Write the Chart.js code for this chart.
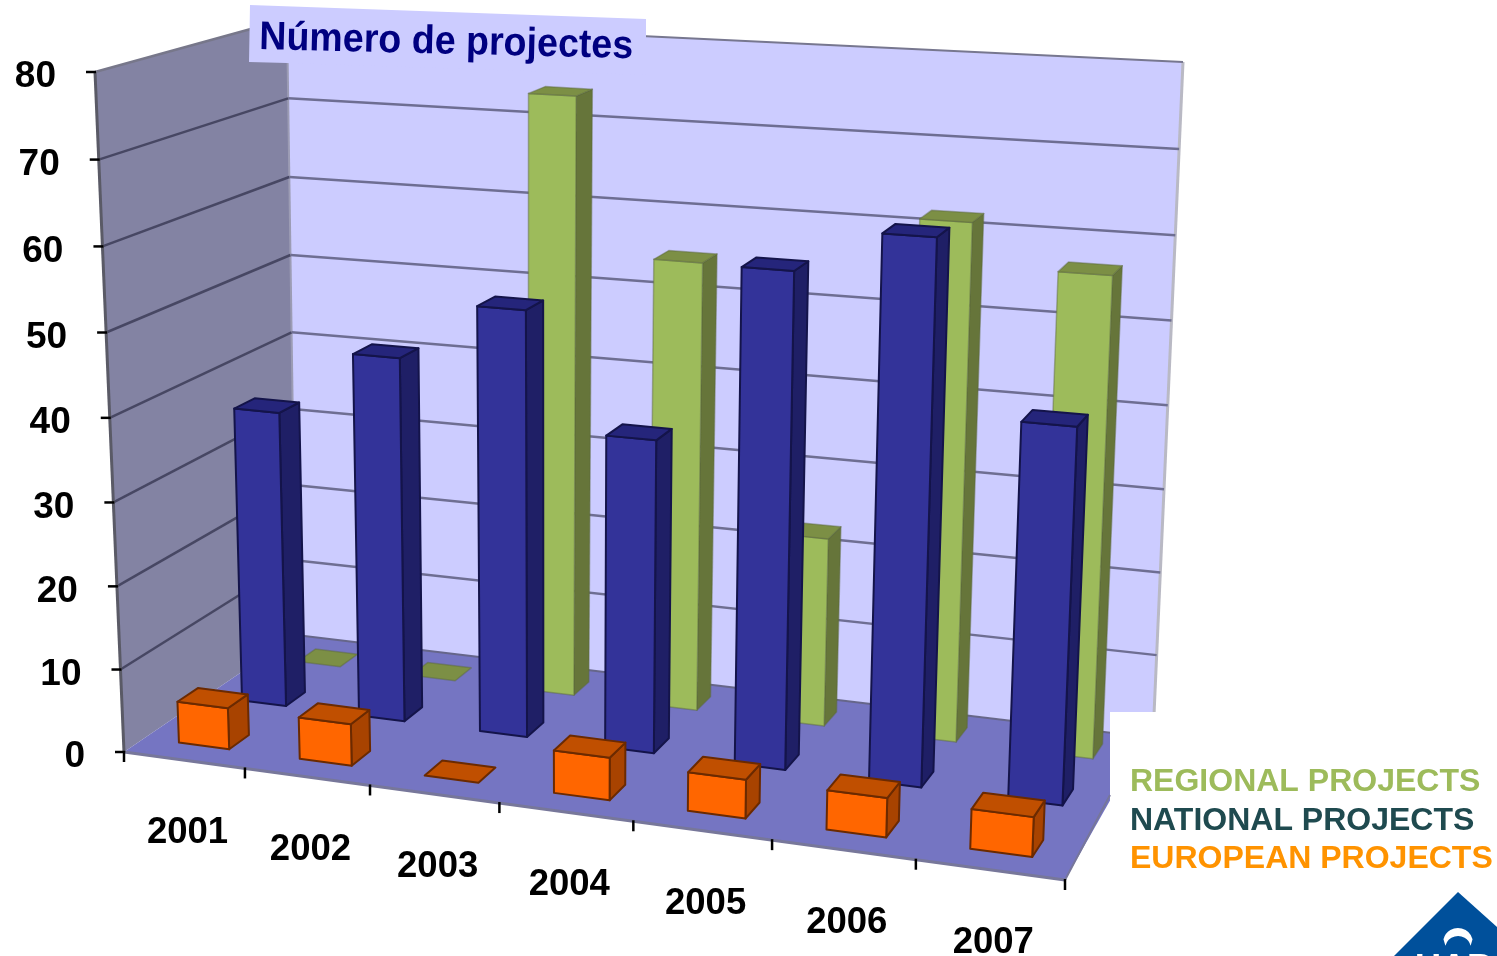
<!DOCTYPE html>
<html><head><meta charset="utf-8">
<style>html,body{margin:0;padding:0;background:#fff}canvas{display:block}</style>
<script src="https://cdn.jsdelivr.net/npm/chart.js@4"></script>
</head><body>
<canvas id="c" width="1497" height="956"></canvas>
<script>
const years = ['2001','2002','2003','2004','2005','2006','2007'];
const regional = [0,0,74,55,23,62,57];
const national = [36.5,44.5,51.5,37.5,58.5,63.5,43.5];
const european = [5,5,0,5,4.5,4.5,4.5];
const yMax = 80, yStep = 10;
const titleText = 'Número de projectes';
const legendItems = ['REGIONAL PROJECTS','NATIONAL PROJECTS','EUROPEAN PROJECTS'];
const legendColors = ['#9DBB5B','#1F4A4F','#FF9300'];

// 3D frame corners (image space)
const C = {
  fbl:[124,752], fbr:[1065,880], ftl:[95,72], ftr:[1095,136],
  bbl:[296,635], bbr:[1153,737], btl:[287,19], btr:[1183,62]
};
const floorRight = [1146,737];
const warpK = 0.13, warpV = 0.035;
const warp = u => u/(1+warpK*(1-u));
const warpH = v => v/(1+warpV*(1-v));
function lerp(a,b,t){return [a[0]+(b[0]-a[0])*t,a[1]+(b[1]-a[1])*t];}
function P3(u,d,v){
  const w = warp(u), h = warpH(v);
  const fb = lerp(C.fbl,C.fbr,w), ft = lerp(C.ftl,C.ftr,w);
  const bb = lerp(C.bbl,C.bbr,w), bt = lerp(C.btl,C.btr,w);
  return lerp(lerp(fb,ft,h),lerp(bb,bt,h),d);
}
function poly(ctx,pts,fill,stroke,lw){
  ctx.beginPath();
  pts.forEach((p,i)=>i?ctx.lineTo(p[0],p[1]):ctx.moveTo(p[0],p[1]));
  ctx.closePath();
  if(fill){ctx.fillStyle=fill;ctx.fill();}
  if(stroke){ctx.strokeStyle=stroke;ctx.lineWidth=lw||1.5;ctx.stroke();}
}
function seg(ctx,a,b,col,lw){
  ctx.beginPath();ctx.moveTo(a[0],a[1]);ctx.lineTo(b[0],b[1]);
  ctx.strokeStyle=col;ctx.lineWidth=lw;ctx.stroke();
}
const looks = [
  {d0:.81,d1:.915,front:'#9DBB5B',side:'#66753A',top:'#7C8F45',edge:'rgba(90,105,60,.45)',lw:1.5},
  {d0:.48,d1:.595,front:'#333399',side:'#1F1F66',top:'#25257B',edge:'#14144A',lw:2},
  {d0:.12,d1:.24,front:'#FF6600',side:'#A84300',top:'#C04F00',edge:'#6B2A00',lw:2}
];
const plugin3d = {
  id:'frame3d',
  beforeDatasetsDraw(chart){
    const ctx=chart.ctx, ys=chart.scales.y, xs=chart.scales.x, a=chart.chartArea;
    ctx.save();
    ctx.save();
    ctx.beginPath();
    ctx.rect(0,0,1110,956);ctx.rect(1110,0,387,712);
    ctx.clip();
    poly(ctx,[C.btl,C.btr,C.bbr,C.bbl],'#CCCCFF');
    poly(ctx,[C.ftl,C.btl,C.bbl,C.fbl],'#8383A3');
    poly(ctx,[C.fbl,C.fbr,floorRight,C.bbl],'#7575C2');
    seg(ctx,C.btr,C.bbr,'#b9b9c4',3);
    seg(ctx,C.ftl,C.btl,'#77778a',2.5);
    seg(ctx,C.btl,C.btr,'#77778f',2);
    seg(ctx,C.btl,C.bbl,'#9c9cb4',2);
    seg(ctx,C.fbl,C.fbr,'#77779a',3);
    seg(ctx,C.bbl,floorRight,'#66668a',2);
    ys.ticks.forEach(t=>{
      const v=(a.bottom-ys.getPixelForValue(t.value))/(a.bottom-a.top);
      if(t.value>0 && t.value<yMax){
        seg(ctx,P3(0,0,v),P3(0,1,v),'#474763',2.5);
        seg(ctx,P3(0,1,v),P3(1,1,v),'#6E6E92',2.5);
      }
    });
    ctx.restore();
    seg(ctx,C.ftl,C.fbl,'#5a5a66',3);
    seg(ctx,C.fbr,[1110,795],'#77779a',2);
    // ticks + labels
    ctx.fillStyle='#000';
    ctx.font='bold 37px "Liberation Sans"';
    ctx.textBaseline='middle';
    ys.ticks.forEach(t=>{
      const v=(a.bottom-ys.getPixelForValue(t.value))/(a.bottom-a.top);
      const p=P3(0,0,v);
      seg(ctx,[p[0]-9,p[1]],[p[0]+1,p[1]],'#000',2.5);
      ctx.fillStyle='#000';ctx.textAlign='right';
      ctx.fillText(String(t.value),p[0]-39,p[1]+5);
    });
    ctx.font='bold 36.5px "Liberation Sans"';
    const half=xs.width/years.length/2;
    years.forEach((y,i)=>{
      const c=xs.getPixelForValue(i);
      const u0=(c-half-a.left)/a.width;
      const p=P3(u0,0,0);
      seg(ctx,[p[0],p[1]-1],[p[0],p[1]+10],'#000',2.5);
      const m=P3((c-a.left)/a.width,0,0);
      ctx.fillStyle='#000';ctx.textAlign='center';
      ctx.fillText(xs.getLabelForValue(i),m[0]+3.5,m[1]+73);
    });
    const e=P3(1,0,0);
    seg(ctx,[e[0],e[1]-1],[e[0],e[1]+10],'#000',2.5);
    ctx.restore();
  },
  beforeDatasetDraw(chart,args){
    const ctx=chart.ctx,a=chart.chartArea,look=looks[args.index],meta=args.meta;
    ctx.save();
    ctx.lineJoin='round';
    meta.data.forEach(el=>{
      const p=el.getProps(['x','y','base','width'],true);
      const u0=(p.x-p.width/2-a.left)/a.width,u1=(p.x+p.width/2-a.left)/a.width;
      const vt=(a.bottom-p.y)/a.height,vb=(a.bottom-p.base)/a.height;
      const {d0,d1}=look;
      const A=P3(u0,d0,vb),B=P3(u1,d0,vb),Cc=P3(u1,d1,vb);
      const D=P3(u0,d0,vt),E=P3(u1,d0,vt),F=P3(u1,d1,vt),G=P3(u0,d1,vt);
      if(vt>vb){
        poly(ctx,[B,Cc,F,E],look.side,look.edge,look.lw);
        poly(ctx,[A,B,E,D],look.front,look.edge,look.lw);
      }
      poly(ctx,[D,E,F,G],look.top,look.edge,look.lw);
    });
    ctx.restore();
    return false;
  },
  afterDatasetsDraw(chart){
    const ctx=chart.ctx;
    ctx.save();
    // title panel
    poly(ctx,[[250,5],[646,19],[646,75],[287,63],[249,62]],'#CCCCFF');
    ctx.save();
    ctx.translate(259,49);ctx.rotate(1.4*Math.PI/180);ctx.scale(.94,1);
    ctx.fillStyle='#000080';ctx.font='bold 40px "Liberation Sans"';
    ctx.textAlign='left';ctx.textBaseline='alphabetic';
    ctx.fillText(titleText,0,0);
    ctx.restore();
    // legend
    ctx.font='bold 32px "Liberation Sans"';ctx.textAlign='left';ctx.textBaseline='middle';
    [780,819,857].forEach((y,i)=>{
      ctx.fillStyle=legendColors[i];
      ctx.fillText(legendItems[i],1130,y+2);
    });
    // logo
    poly(ctx,[[1458,892],[1497,927],[1497,956],[1394,956]],'#00509B');
    ctx.beginPath();
    ctx.arc(1458,943,15,Math.PI*1.08,Math.PI*1.92);
    ctx.arc(1458,949,13,Math.PI*1.92,Math.PI*1.08,true);
    ctx.closePath();ctx.fillStyle='#fff';ctx.fill();
    ctx.fillStyle='#fff';ctx.font='bold 36px "Liberation Sans"';ctx.textAlign='left';ctx.textBaseline='alphabetic';
    ctx.fillText('UAB',1415,980);
    ctx.restore();
  }
};
new Chart(document.getElementById('c'),{
  type:'bar',
  data:{labels:years,datasets:[
    {label:legendItems[0],data:regional,order:3,grouped:false,backgroundColor:'#9DBB5B'},
    {label:legendItems[1],data:national,order:2,grouped:false,backgroundColor:'#333399'},
    {label:legendItems[2],data:european,order:1,grouped:false,backgroundColor:'#FF6600',barPercentage:.42}
  ]},
  options:{
    responsive:false,animation:false,
    layout:{padding:0},
    barPercentage:.38,categoryPercentage:1,
    plugins:{legend:{display:false},title:{display:false},tooltip:{enabled:false}},
    scales:{
      x:{display:false},
      y:{display:false,min:0,max:yMax,ticks:{stepSize:yStep}}
    }
  },
  plugins:[plugin3d]
});
</script>
</body></html>
